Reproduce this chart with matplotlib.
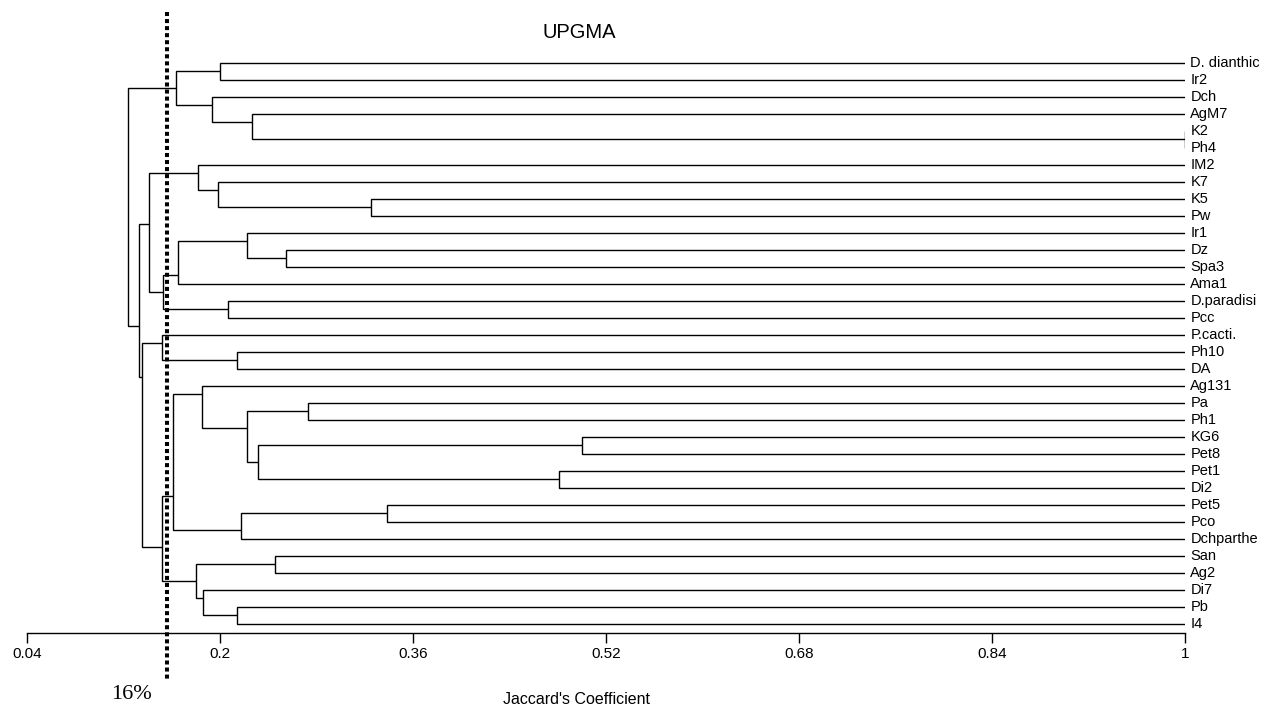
#!/usr/bin/env python
"""
UPGMA dendrogram of Jaccard's coefficient, 34 isolates, 16% cut-off line
"""
import numpy as np
import matplotlib
matplotlib.use("Agg")
import matplotlib.pyplot as mp

mp.rcParams["font.family"] = ["Liberation Sans", "DejaVu Sans"]

# leaf order, top to bottom
leaves = ["D. dianthic", "Ir2", "Dch", "AgM7", "K2", "Ph4", "IM2", "K7", "K5", "Pw",
          "Ir1", "Dz", "Spa3", "Ama1", "D.paradisi", "Pcc", "P.cacti.", "Ph10", "DA",
          "Ag131", "Pa", "Ph1", "KG6", "Pet8", "Pet1", "Di2", "Pet5", "Pco", "Dchparthe",
          "San", "Ag2", "Di7", "Pb", "I4"]

# joins : new node = left + right at Jaccard similarity (children listed before parents)
node_name  = ["n_kp", "n_agm7", "n_dch", "n_ddi", "n_top",
              "n_kpw", "n_k7", "n_im2", "n_dzs", "n_ir1", "n_ama", "n_dpp", "n_mid2", "n_mid1",
              "n_phda", "n_pc", "n_papho", "n_kgp", "n_pdi", "n_i", "n_h", "n_g",
              "n_pp", "n_j", "n_f", "n_sa", "n_pbi", "n_l", "n_k", "n_e", "n_c", "n_b", "root"]
node_left  = ["K2", "AgM7", "Dch", "D. dianthic", "n_ddi",
              "K5", "K7", "IM2", "Dz", "Ir1", "n_ir1", "D.paradisi", "n_ama", "n_im2",
              "Ph10", "P.cacti.", "Pa", "KG6", "Pet1", "n_kgp", "n_papho", "Ag131",
              "Pet5", "n_pp", "n_g", "San", "Pb", "Di7", "n_sa", "n_f", "n_pc", "n_mid1", "n_top"]
node_right = ["Ph4", "n_kp", "n_agm7", "Ir2", "n_dch",
              "Pw", "n_kpw", "n_k7", "Spa3", "n_dzs", "Ama1", "Pcc", "n_dpp", "n_mid2",
              "DA", "n_phda", "Ph1", "Pet8", "Di2", "n_pdi", "n_i", "n_h",
              "Pco", "Dchparthe", "n_j", "Ag2", "I4", "n_pbi", "n_l", "n_k", "n_e", "n_c", "n_b"]
node_sim   = [1.000, 0.2265, 0.193, 0.200, 0.163,
              0.3247, 0.198, 0.1813, 0.2542, 0.2225, 0.1649, 0.2064, 0.1527, 0.1411,
              0.2141, 0.152, 0.273, 0.500, 0.481, 0.2315, 0.2219, 0.1848,
              0.3384, 0.2169, 0.161, 0.2453, 0.2141, 0.1854, 0.1796, 0.1515, 0.1353, 0.1328, 0.1237]

ticks = [0.04, 0.2, 0.36, 0.52, 0.68, 0.84, 1.0]
tick_labels = ["0.04", "0.2", "0.36", "0.52", "0.68", "0.84", "1"]

cutoff = 0.156
cutoff_label = "16%"
title = "UPGMA"
xlabel = "Jaccard's Coefficient"

W, H = 1280, 706


def draw():
    fig = mp.figure(figsize=(W / 100., H / 100.), dpi=100)
    # axes: x 0.04 -> 1 spans px 27.3 -> 1185.3, bottom spine at px 633.3 from top
    ax = fig.add_axes([27.3 / W, (H - 633.3) / H, 1158.0 / W, 633.3 / H])
    step = 17.0
    y0 = 62.7
    ax.set_xlim(0.04, 1.0)
    ax.set_ylim((633.3 - y0) / step, -y0 / step)

    pos = {}   # name -> (y, x)
    span = {}  # name -> (first leaf, last leaf)
    for i, name in enumerate(leaves):
        pos[name] = (float(i), 1.0)
        span[name] = (i, i)

    for name, l, r, s in zip(node_name, node_left, node_right, node_sim):
        yl, xl = pos[l]
        yr, xr = pos[r]
        ax.plot([xl, s, s, xr], [yl, yl, yr, yr], color="k", lw=1.0,
                solid_joinstyle="miter", solid_capstyle="butt")
        split = span[l][1]
        span[name] = (span[l][0], span[r][1])
        pos[name] = (split + 0.5, s)

    for i, name in enumerate(leaves):
        ax.annotate(name, (1.0, i), xytext=(3.6, 0), textcoords="offset points",
                    va="center", ha="left", fontsize=10.5, annotation_clip=False)

    # cut-off line
    ax.plot([cutoff, cutoff], [(12 - y0) / step, (681 - y0) / step], color="k", lw=2.9,
            linestyle=(0, (1, 0.75)), dash_capstyle="butt", clip_on=False)

    for side in ["top", "left", "right"]:
        ax.spines[side].set_visible(False)
    ax.spines["bottom"].set_linewidth(1.0)
    ax.yaxis.set_visible(False)
    ax.set_xticks(ticks)
    ax.set_xticklabels(tick_labels)
    ax.tick_params(axis="x", direction="out", length=7.2, width=1.0, pad=3, labelsize=11)

    fig.text(578.8 / W, 1 - 33.0 / H, title, ha="center", va="center", fontsize=14.5)
    fig.text(576.5 / W, 2.0 / H, xlabel, ha="center", va="baseline", fontsize=11.5)
    fig.text(131.0 / W, (H - 699.0) / H, cutoff_label, ha="center", va="baseline",
             fontsize=16, family=["Liberation Serif", "DejaVu Serif"])

    fig.savefig("out.png", dpi=100)


if __name__ == "__main__":
    draw()
